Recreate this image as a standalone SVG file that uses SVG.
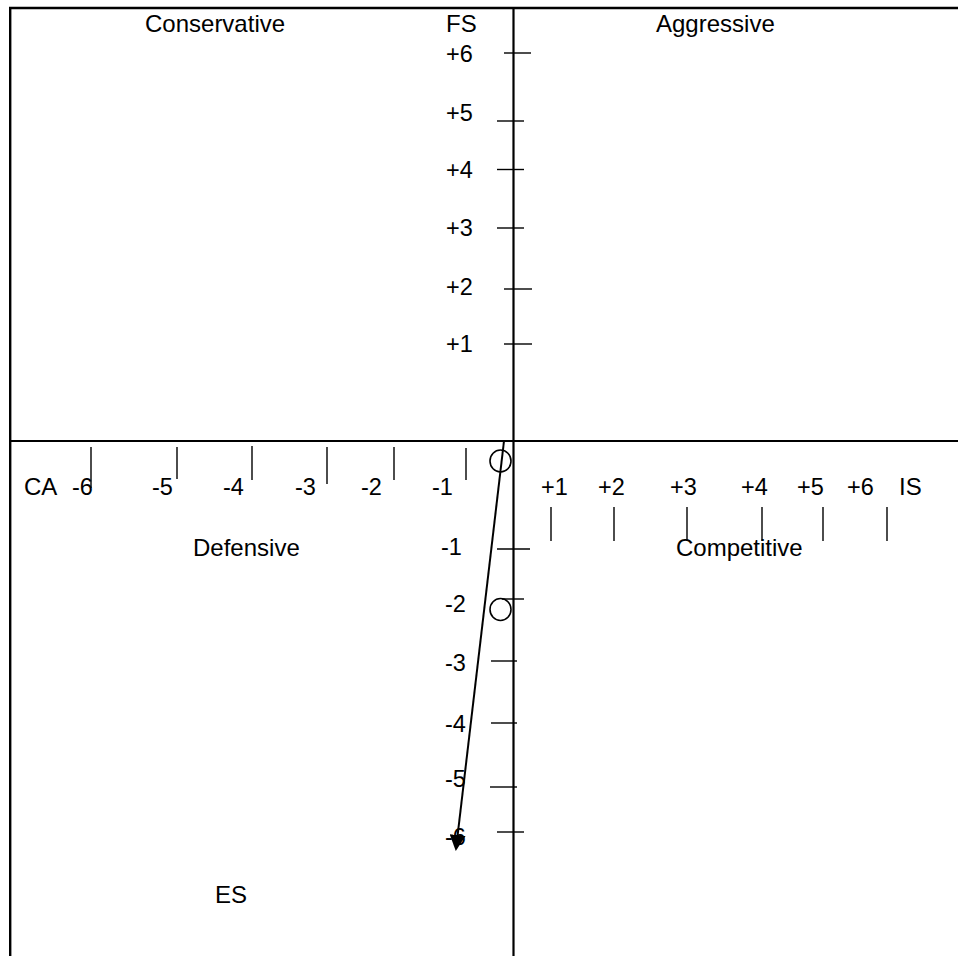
<svg xmlns="http://www.w3.org/2000/svg" width="958" height="956" viewBox="0 0 958 956">
<defs>
<style>
.frame{stroke:#000;stroke-width:2.4;fill:none}
.axis{stroke:#000;stroke-width:2.2;fill:none}
.tick{stroke:#000;stroke-width:1.4;fill:none}
.lbl{font-family:"Liberation Sans",Arial,sans-serif;font-size:24px;fill:#000}
.num{font-family:"Liberation Sans",Arial,sans-serif;font-size:23.5px;fill:#000}
.circ{stroke:#000;stroke-width:1.6;fill:none}
</style>
<marker id="ah" markerWidth="8" markerHeight="8" refX="7" refY="4" orient="auto" markerUnits="strokeWidth">
<path d="M0,0 L8,4 L0,8 Z" fill="#000"/>
</marker>
</defs>
<rect width="958" height="956" fill="#fff"/>
<g id="frame">
<line class="frame" x1="9" y1="8" x2="958" y2="8"/>
<line class="frame" x1="10.2" y1="7" x2="10.2" y2="956"/>
</g>
<g id="axes">
<line class="axis" x1="10" y1="441" x2="958" y2="441"/>
<line class="axis" x1="513.5" y1="8" x2="513.5" y2="956"/>
</g>
<g id="ticks">
<line class="tick" x1="504" y1="53" x2="531" y2="53"/>
<line class="tick" x1="497" y1="121" x2="524" y2="121"/>
<line class="tick" x1="497" y1="169.5" x2="524" y2="169.5"/>
<line class="tick" x1="497" y1="228" x2="524" y2="228"/>
<line class="tick" x1="504" y1="289" x2="532" y2="289"/>
<line class="tick" x1="504" y1="344" x2="532" y2="344"/>
<line class="tick" x1="497" y1="549" x2="530" y2="549"/>
<line class="tick" x1="502" y1="599" x2="524" y2="599"/>
<line class="tick" x1="491" y1="661" x2="517" y2="661"/>
<line class="tick" x1="491" y1="723" x2="517" y2="723"/>
<line class="tick" x1="490" y1="787" x2="517" y2="787"/>
<line class="tick" x1="497" y1="832" x2="524" y2="832"/>
<line class="tick" x1="91" y1="447" x2="91" y2="488"/>
<line class="tick" x1="177" y1="447" x2="177" y2="479"/>
<line class="tick" x1="252" y1="446" x2="252" y2="480"/>
<line class="tick" x1="327" y1="447" x2="327" y2="484"/>
<line class="tick" x1="394" y1="447" x2="394" y2="480"/>
<line class="tick" x1="466" y1="448" x2="466" y2="480"/>
<line class="tick" x1="551" y1="507" x2="551" y2="541"/>
<line class="tick" x1="614" y1="507" x2="614" y2="541"/>
<line class="tick" x1="687" y1="507" x2="687" y2="541"/>
<line class="tick" x1="762" y1="507" x2="762" y2="541"/>
<line class="tick" x1="823" y1="507" x2="823" y2="541"/>
<line class="tick" x1="887" y1="507" x2="887" y2="541"/>
</g>
<g id="labels">
<text class="lbl" x="145" y="32">Conservative</text>
<text class="lbl" x="446" y="32">FS</text>
<text class="lbl" x="656" y="32">Aggressive</text>
<text class="lbl" x="24" y="495">CA</text>
<text class="lbl" x="899" y="495">IS</text>
<text class="lbl" x="193" y="556">Defensive</text>
<text class="lbl" x="676" y="556">Competitive</text>
<text class="lbl" x="215" y="903">ES</text>
</g>
<g id="numbers">
<text class="num" x="446" y="62">+6</text>
<text class="num" x="446" y="121">+5</text>
<text class="num" x="446" y="178">+4</text>
<text class="num" x="446" y="236">+3</text>
<text class="num" x="446" y="295">+2</text>
<text class="num" x="446" y="352">+1</text>
<text class="num" x="72" y="495">-6</text>
<text class="num" x="152" y="495">-5</text>
<text class="num" x="223" y="495">-4</text>
<text class="num" x="295" y="495">-3</text>
<text class="num" x="361" y="495">-2</text>
<text class="num" x="432" y="495">-1</text>
<text class="num" x="541" y="495">+1</text>
<text class="num" x="598" y="495">+2</text>
<text class="num" x="670" y="495">+3</text>
<text class="num" x="741" y="495">+4</text>
<text class="num" x="797" y="495">+5</text>
<text class="num" x="847" y="495">+6</text>
<text class="num" x="441" y="555">-1</text>
<text class="num" x="445" y="612">-2</text>
<text class="num" x="445" y="671">-3</text>
<text class="num" x="445" y="732">-4</text>
<text class="num" x="445" y="787">-5</text>
<text class="num" x="445" y="845">-6</text>
</g>
<g id="markers">
<ellipse class="circ" cx="500.5" cy="461" rx="10.5" ry="11"/>
<ellipse class="circ" cx="500.5" cy="609.5" rx="10.5" ry="11"/>
</g>
<g id="connectors">
<line x1="504" y1="441" x2="456" y2="849" stroke="#000" stroke-width="2" marker-end="url(#ah)"/>
</g>
</svg>
